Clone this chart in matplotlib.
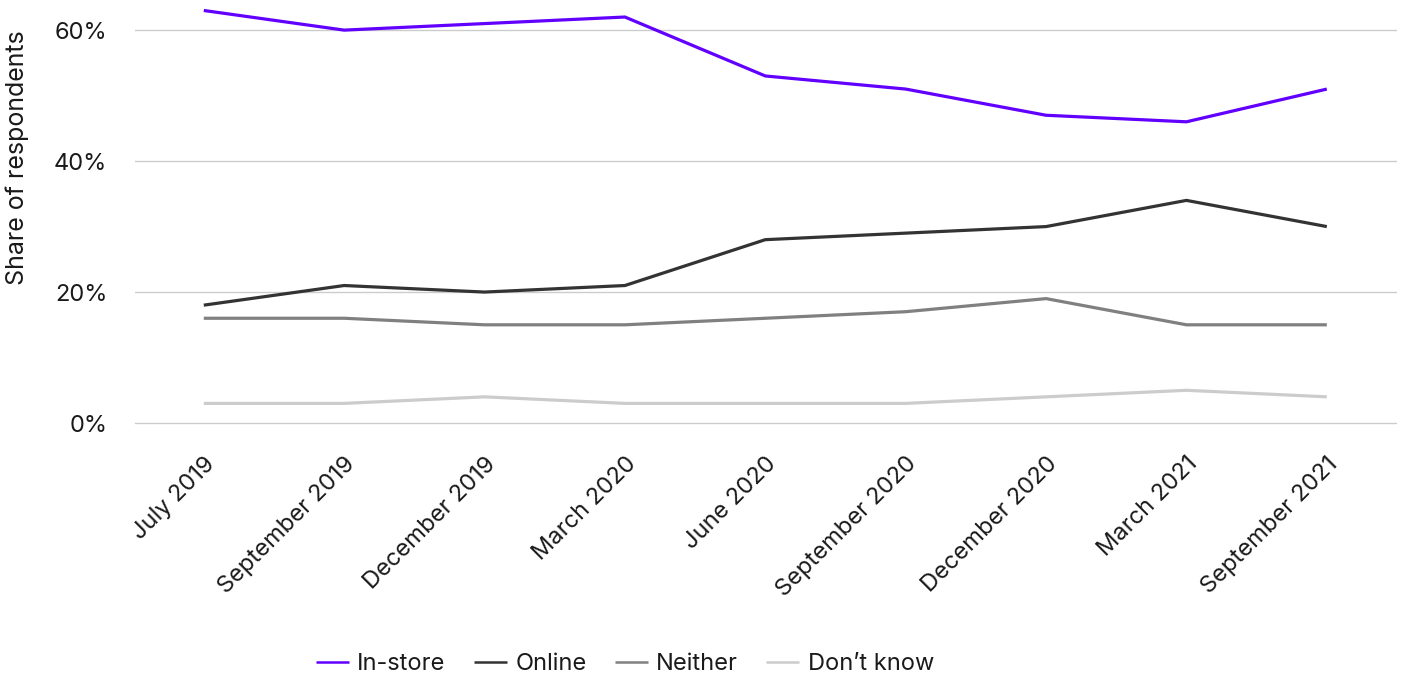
import matplotlib
matplotlib.use("Agg")
import matplotlib.pyplot as plt
from matplotlib.ticker import FuncFormatter

plt.rcParams['font.family'] = ['Inter', 'DejaVu Sans']

periods = ["July 2019", "September 2019", "December 2019", "March 2020", "June 2020",
           "September 2020", "December 2020", "March 2021", "September 2021"]
in_store = [63, 60, 61, 62, 53, 51, 47, 46, 51]
online = [18, 21, 20, 21, 28, 29, 30, 34, 30]
neither = [16, 16, 15, 15, 16, 17, 19, 15, 15]
dont_know = [3, 3, 4, 3, 3, 3, 4, 5, 4]

series = [
    ("In-store", in_store, "#6200ff"),
    ("Online", online, "#333333"),
    ("Neither", neither, "#808080"),
    ("Don\u2019t know", dont_know, "#cccccc"),
]

W, H = 1405, 679
fig = plt.figure(figsize=(W / 100, H / 100), dpi=100)
ax = fig.add_axes([135 / W, (H - 425) / H, (1397 - 135) / W, 425 / H])

x = list(range(len(periods)))
for name, vals, col in series:
    ax.plot(x, vals, color=col, lw=2.3, label=name, solid_capstyle='butt',
            solid_joinstyle='miter', zorder=3)

ax.set_xlim(-0.49, 8.5)
ax.set_ylim(-0.3, 64.6)
ax.set_yticks([0, 20, 40, 60])
ax.yaxis.set_major_formatter(FuncFormatter(lambda v, p: f"{v:.0f}%"))
ax.grid(axis='y', color='#cccccc', lw=1)
ax.set_axisbelow(True)
for s in ax.spines.values():
    s.set_visible(False)
ax.tick_params(axis='both', length=0, labelsize=17, colors='#1a1a1a')
ax.tick_params(axis='y', pad=20)
ax.set_xticks(x)
ax.set_xticklabels(periods, rotation=45, ha='right', va='top', rotation_mode='anchor')
ax.tick_params(axis='x', pad=20)
ax.set_ylabel("Share of respondents", fontsize=18, color='#1a1a1a')
ax.yaxis.set_label_coords(-0.084, 0.63)

leg = fig.legend(loc='center', bbox_to_anchor=(625 / W, 1 - 664 / H), ncol=4,
                 frameon=False, fontsize=17, handlelength=1.4, handletextpad=0.35,
                 columnspacing=1.2)
for t in leg.get_texts():
    t.set_color('#1a1a1a')
for l in leg.get_lines():
    l.set_linewidth(1.8)

fig.savefig("out.png", dpi=100)
